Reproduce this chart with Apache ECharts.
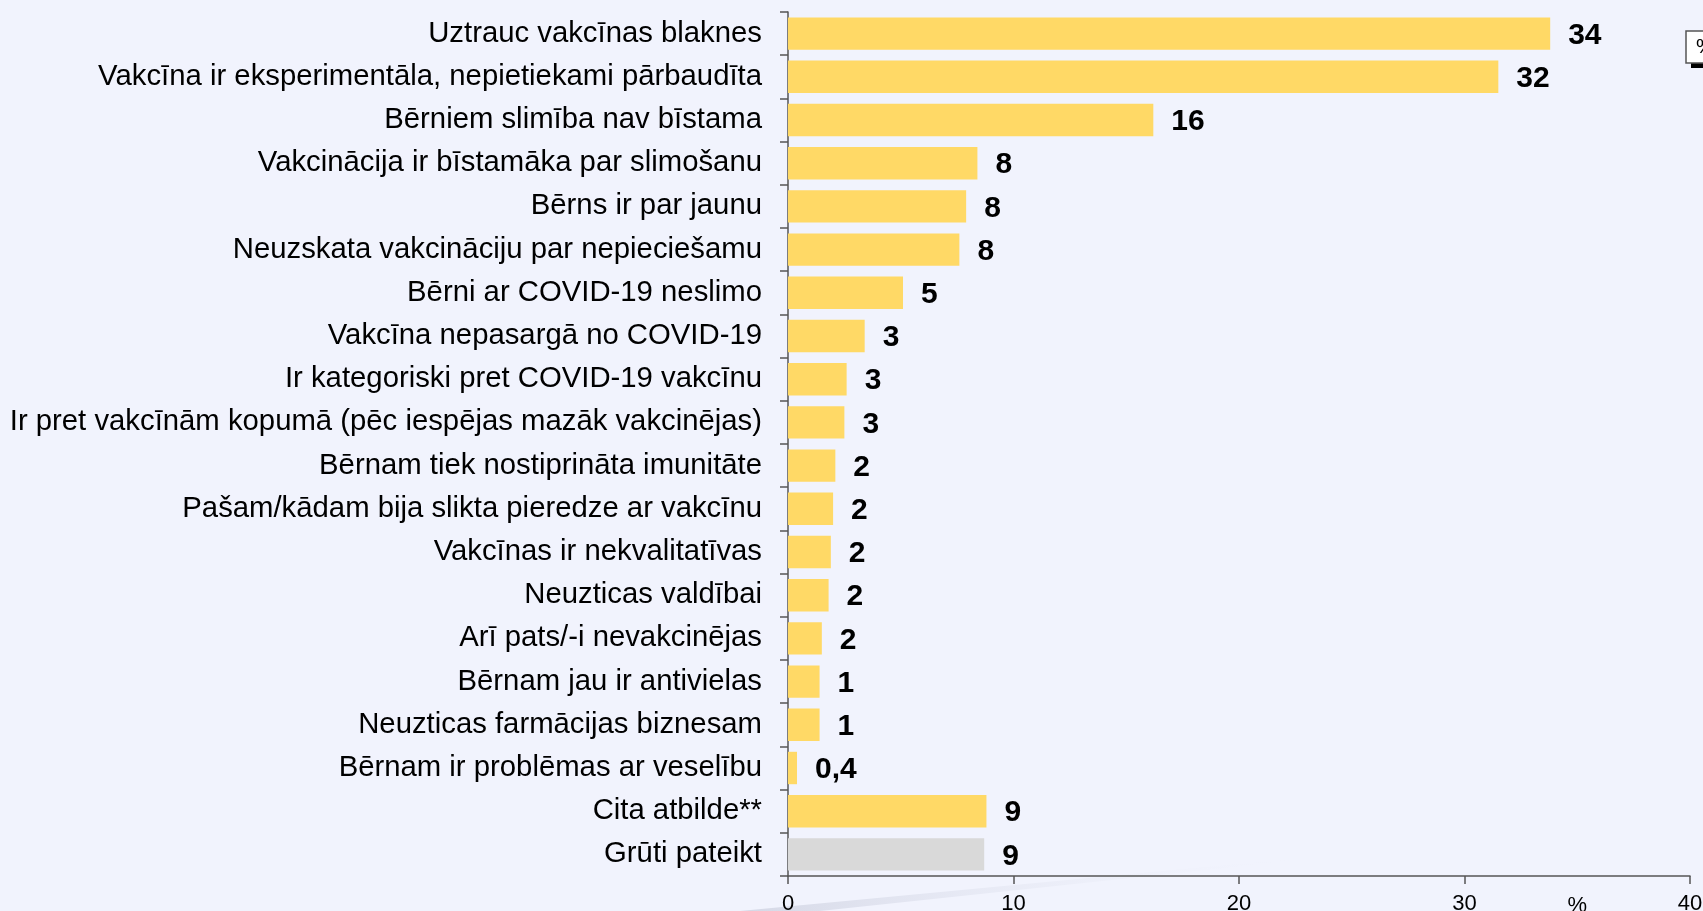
<!DOCTYPE html>
<html>
<head>
<meta charset="utf-8">
<script src="https://cdn.jsdelivr.net/npm/echarts@6/dist/echarts.min.js"></script>
<style>
  html, body { margin: 0; padding: 0; background: #F1F3FD; }
  #chart { width: 1703px; height: 911px; }
</style>
</head>
<body>
<div id="chart"></div>
<script>
// Reasons given (percent of respondents)
const categories = [
  'Uztrauc vakcīnas blaknes',
  'Vakcīna ir eksperimentāla, nepietiekami pārbaudīta',
  'Bērniem slimība nav bīstama',
  'Vakcinācija ir bīstamāka par slimošanu',
  'Bērns ir par jaunu',
  'Neuzskata vakcināciju par nepieciešamu',
  'Bērni ar COVID-19 neslimo',
  'Vakcīna nepasargā no COVID-19',
  'Ir kategoriski pret COVID-19 vakcīnu',
  'Ir pret vakcīnām kopumā (pēc iespējas mazāk vakcinējas)',
  'Bērnam tiek nostiprināta imunitāte',
  'Pašam/kādam bija slikta pieredze ar vakcīnu',
  'Vakcīnas ir nekvalitatīvas',
  'Neuzticas valdībai',
  'Arī pats/-i nevakcinējas',
  'Bērnam jau ir antivielas',
  'Neuzticas farmācijas biznesam',
  'Bērnam ir problēmas ar veselību',
  'Cita atbilde**',
  'Grūti pateikt'
];
const values = [33.8, 31.5, 16.2, 8.4, 7.9, 7.6, 5.1, 3.4, 2.6, 2.5, 2.1, 2.0, 1.9, 1.8, 1.5, 1.4, 1.4, 0.4, 8.8, 8.7];
const highlightCategory = 'Grūti pateikt';
const xTicks = { min: 0, max: 40, interval: 10 };
const unitLabel = '%';

const YELLOW = '#FFD966';
const GREY = '#D9D9D9';
const AXIS = '#555555';
const FONT = '"Liberation Sans", Arial, sans-serif';

function formatValue(v) {
  if (v < 1) return v.toFixed(1).replace('.', ',');
  return String(Math.round(v));
}

const chart = echarts.init(document.getElementById('chart'), null, { renderer: 'canvas' });

chart.setOption({
  backgroundColor: '#F1F3FD',
  animation: false,
  grid: { left: 788, right: 13, top: 12, bottom: 35, containLabel: false, outerBoundsMode: 'none' },
  xAxis: {
    type: 'value',
    min: xTicks.min,
    max: xTicks.max,
    interval: xTicks.interval,
    splitLine: { show: false },
    axisLine: { show: true, lineStyle: { color: AXIS, width: 1.5 } },
    axisTick: { show: true, length: 8, lineStyle: { color: AXIS, width: 1.5 } },
    axisLabel: { color: '#000', fontFamily: FONT, fontSize: 22, margin: 17 }
  },
  yAxis: {
    type: 'category',
    inverse: true,
    data: categories,
    axisLine: { show: true, lineStyle: { color: AXIS, width: 1.5 } },
    axisTick: { show: true, length: 8, alignWithLabel: false, lineStyle: { color: AXIS, width: 1.5 } },
    axisLabel: { color: '#000', fontFamily: FONT, fontSize: 29.3, margin: 26 }
  },
  series: [{
    type: 'bar',
    data: values.map((v, i) => ({
      value: v,
      itemStyle: { color: categories[i] === highlightCategory ? GREY : YELLOW }
    })),
    barCategoryGap: '25%',
    label: {
      show: true,
      position: 'right',
      distance: 18,
      offset: [0, 2],
      color: '#000',
      fontFamily: FONT,
      fontWeight: 'bold',
      fontSize: 30,
      formatter: p => formatValue(p.value)
    }
  }]
});

// Unit caption between the last two ticks, a clipped unit box at the top right,
// and the faint swoosh along the bottom edge.
const unitX = chart.convertToPixel({ xAxisIndex: 0 }, 35);
chart.setOption({
  graphic: [
    {
      type: 'polygon',
      silent: true,
      z: 0,
      shape: { points: [[740, 911], [1310, 857], [1310, 859], [820, 911]] },
      style: {
        fill: new echarts.graphic.LinearGradient(0, 0, 1, 0, [
          { offset: 0, color: 'rgba(170,175,195,0.4)' },
          { offset: 1, color: 'rgba(241,243,253,0)' }
        ])
      }
    },
    {
      type: 'text',
      silent: true,
      x: unitX,
      y: 895,
      style: { text: unitLabel, fill: '#000', font: '22px ' + FONT, textAlign: 'center' }
    },
    {
      type: 'rect',
      silent: true,
      shape: { x: 1691, y: 62, width: 20, height: 6 },
      style: { fill: '#000' }
    },
    {
      type: 'rect',
      silent: true,
      shape: { x: 1686, y: 31, width: 30, height: 32 },
      style: { fill: '#fff', stroke: '#555', lineWidth: 1.5 }
    },
    {
      type: 'text',
      silent: true,
      x: 1696,
      y: 37,
      style: { text: unitLabel, fill: '#000', font: '21px ' + FONT }
    }
  ]
});
</script>
</body>
</html>
